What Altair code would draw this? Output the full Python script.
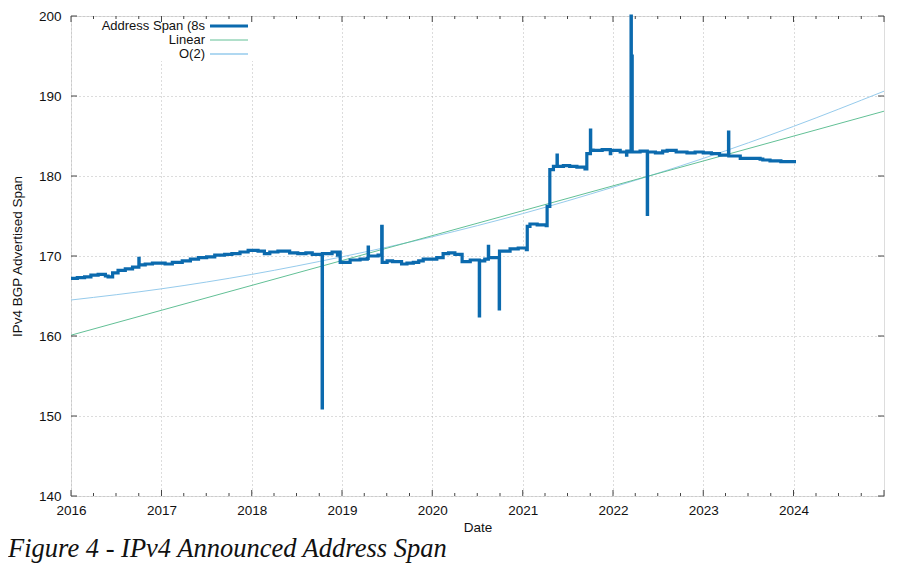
import altair as alt
import pandas as pd
import datetime as dt

# ---- data (decimal years, span in /8s) ----
span_years = [
    2016.00, 2016.07, 2016.15, 2016.22, 2016.30, 2016.38, 2016.41, 2016.46, 2016.52, 2016.60, 2016.68,
    2016.750, 2016.753, 2016.82, 2016.90, 2017.04, 2017.12, 2017.23, 2017.32, 2017.41,
    2017.50, 2017.59, 2017.70, 2017.78, 2017.87, 2017.96, 2018.07, 2018.14, 2018.20, 2018.29, 2018.42,
    2018.51, 2018.60, 2018.67, 2018.780, 2018.783, 2018.89, 2018.95, 2018.97, 2018.98,
    2019.09, 2019.20, 2019.28, 2019.290, 2019.293, 2019.33, 2019.40, 2019.440,
    2019.445, 2019.50, 2019.56, 2019.66, 2019.72, 2019.79, 2019.85, 2019.90, 2020.05, 2020.12, 2020.18, 2020.25,
    2020.33, 2020.42, 2020.520, 2020.523, 2020.58, 2020.620, 2020.623, 2020.740, 2020.743,
    2020.86, 2020.95, 2021.04, 2021.05, 2021.08, 2021.16, 2021.26, 2021.27, 2021.30,
    2021.34, 2021.380, 2021.383, 2021.45, 2021.52, 2021.60, 2021.69, 2021.71, 2021.750, 2021.753,
    2021.78, 2021.88, 2021.97, 2021.975, 2022.08, 2022.15, 2022.153, 2022.18, 2022.200, 2022.203, 2022.210, 2022.213,
    2022.30, 2022.380, 2022.383, 2022.47, 2022.55, 2022.60, 2022.70, 2022.82, 2022.91, 2023.00, 2023.09, 2023.18, 2023.280,
    2023.283, 2023.33, 2023.41, 2023.52, 2023.63, 2023.66, 2023.74, 2023.86, 2024.01,
]
span_values = [
    167.2, 167.3, 167.4, 167.6, 167.7, 167.5, 167.4, 167.9, 168.2, 168.4, 168.6,
    169.7, 168.9, 169.0, 169.1, 169.0, 169.2, 169.4, 169.6, 169.8,
    169.9, 170.1, 170.2, 170.3, 170.5, 170.7, 170.6, 170.3, 170.5, 170.6, 170.4,
    170.3, 170.4, 170.2, 151.0, 170.3, 170.5, 170.1, 170.5, 169.2,
    169.5, 169.6, 169.7, 171.1, 170.0, 170.0, 170.1, 173.7,
    169.2, 169.4, 169.3, 169.0, 169.1, 169.2, 169.4, 169.6, 169.8, 170.3, 170.4, 170.2,
    169.3, 169.5, 162.5, 169.4, 169.6, 171.2, 169.8, 163.4, 170.6,
    170.9, 171.0, 170.8, 173.7, 174.0, 173.9, 173.8, 176.2, 180.8,
    181.2, 182.6, 181.2, 181.3, 181.2, 181.1, 180.9, 182.8, 185.75, 183.25,
    183.2, 183.3, 182.8, 183.2, 183.0, 182.6, 183.1, 183.0, 200.0, 183.0, 195.0, 183.0,
    183.1, 175.2, 183.0, 182.9, 183.1, 183.2, 183.0, 182.9, 183.0, 182.9, 182.8, 182.6, 185.5,
    182.5, 182.5, 182.2, 182.2, 182.1, 182.0, 181.9, 181.8, 181.6,
]
linear_years = [2016.0, 2025.0]
linear_values = [160.1, 188.1]
quad_years = [2016, 2017, 2018, 2019, 2020, 2021, 2022, 2023, 2024, 2025]
quad_values = [164.5, 165.9, 167.7, 169.9, 172.4, 175.3, 178.6, 182.2, 186.2, 190.6]

x_label_years = [2016, 2017, 2018, 2019, 2020, 2021, 2022, 2023, 2024]
y_tick_values = [140, 150, 160, 170, 180, 190, 200]

C_SPAN = "#0b6aae"
C_LIN = "#62c096"
C_QUAD = "#96cbec"
FONT = "Liberation Sans"
FS = 13.5


def to_date(y):
    yi = int(y)
    start = dt.datetime(yi, 1, 1)
    end = dt.datetime(yi + 1, 1, 1)
    return start + (end - start) * (y - yi)


span_df = pd.DataFrame({"date": [to_date(y) for y in span_years], "value": span_values})
lin_df = pd.DataFrame({"date": [to_date(y) for y in linear_years], "value": linear_values})
quad_df = pd.DataFrame({"date": [to_date(y) for y in quad_years], "value": quad_values})

quarter_dates = []
for yr in range(2016, 2025):
    for q in range(4):
        quarter_dates.append((dt.datetime(yr, 1 + 3 * q, 1), q == 0))
quarter_dates.append((dt.datetime(2025, 1, 1), True))
xt_df = pd.DataFrame({"date": [d for d, _ in quarter_dates], "major": [m for _, m in quarter_dates]})
yt_df = pd.DataFrame({"value": y_tick_values})

W, H = 813, 480

x_scale = alt.Scale(domain=[alt.DateTime(year=2016, month=1, date=1),
                            alt.DateTime(year=2025, month=1, date=1)], nice=False)
y_scale = alt.Scale(domain=[140, 200], nice=False, zero=False)

x_axis = alt.Axis(
    title="Date", values=[alt.DateTime(year=y, month=1, date=1) for y in x_label_years],
    format="%Y", labelFont=FONT, labelFontSize=FS, labelColor="#111",
    titleFont=FONT, titleFontSize=FS, titleFontWeight="normal", titleColor="#111",
    labelPadding=7, titlePadding=4, ticks=False, domain=False,
    grid=True, gridColor="#b8b8b8", gridDash=[1, 3], gridWidth=1, labelFlush=False,
)
y_axis = alt.Axis(
    title="IPv4 BGP Advertised Span", values=y_tick_values,
    labelFont=FONT, labelFontSize=FS, labelColor="#111",
    titleFont=FONT, titleFontSize=FS, titleFontWeight="normal", titleColor="#111",
    labelPadding=10, titlePadding=14, ticks=False, domain=False,
    grid=True, gridColor="#b8b8b8", gridDash=[1, 3], gridWidth=1, labelFlush=False,
)


def X(field="date"):
    return alt.X(f"{field}:T", scale=x_scale, axis=x_axis)


def Y(field="value"):
    return alt.Y(f"{field}:Q", scale=y_scale, axis=y_axis)


span = alt.Chart(span_df).mark_line(
    color=C_SPAN, strokeWidth=3.2, interpolate="step-after", strokeJoin="miter"
).encode(x=X(), y=Y())

lin = alt.Chart(lin_df).mark_line(color=C_LIN, strokeWidth=1).encode(x=X(), y=Y())
quad = alt.Chart(quad_df).mark_line(color=C_QUAD, strokeWidth=1, interpolate="monotone").encode(x=X(), y=Y())

# legend box (opaque, gnuplot style)
legend_box = alt.Chart(span_df.head(1)).mark_rect(fill="white").encode(
    x=alt.value(22), x2=alt.value(186), y=alt.value(1), y2=alt.value(45)
)


def legend_entry(label, color, width, ypos):
    base = alt.Chart(span_df.head(1))
    t = base.mark_text(align="right", baseline="middle", font=FONT, fontSize=13, color="#111").encode(
        x=alt.value(134), y=alt.value(ypos), text=alt.value(label)
    )
    r = base.mark_rule(color=color, strokeWidth=width).encode(
        x=alt.value(139), x2=alt.value(177), y=alt.value(ypos + 0.5)
    )
    return t + r


leg = (legend_entry("Address Span (8s", C_SPAN, 3, 9.5)
       + legend_entry("Linear", C_LIN, 1, 23.5)
       + legend_entry("O(2)", C_QUAD, 1.5, 37.5))

# inward ticks (gnuplot style)
xt_major = alt.Chart(xt_df).transform_filter("datum.major")
xt_minor = alt.Chart(xt_df).transform_filter("!datum.major")
tick_col = "#444"
ticks = (
    xt_major.mark_rule(color=tick_col).encode(x=X(), y=alt.value(H), y2=alt.value(H - 6))
    + xt_major.mark_rule(color=tick_col).encode(x=X(), y=alt.value(0), y2=alt.value(6))
    + xt_minor.mark_rule(color=tick_col).encode(x=X(), y=alt.value(H), y2=alt.value(H - 3))
    + xt_minor.mark_rule(color=tick_col).encode(x=X(), y=alt.value(0), y2=alt.value(3))
    + alt.Chart(yt_df).mark_rule(color=tick_col).encode(y=Y(), x=alt.value(0), x2=alt.value(6))
    + alt.Chart(yt_df).mark_rule(color=tick_col).encode(y=Y(), x=alt.value(W), x2=alt.value(W - 6))
)

caption = alt.Chart(span_df.head(1)).mark_text(
    align="left", baseline="alphabetic", font="Liberation Serif", fontStyle="italic",
    fontSize=26.5, color="#111"
).encode(x=alt.value(-63), y=alt.value(541), text=alt.value("Figure 4 - IPv4 Announced Address Span"))

chart = alt.layer(legend_box, quad, lin, span, ticks, leg, caption).properties(
    width=W, height=H,
    autosize=alt.AutoSizeParams(type="none"),
    padding={"left": 63, "top": 8, "right": 4, "bottom": 75},
).configure_view(stroke="#444", strokeWidth=1).configure(background="white")

chart.save("out.html", embed_options={"renderer": "svg", "actions": False})
